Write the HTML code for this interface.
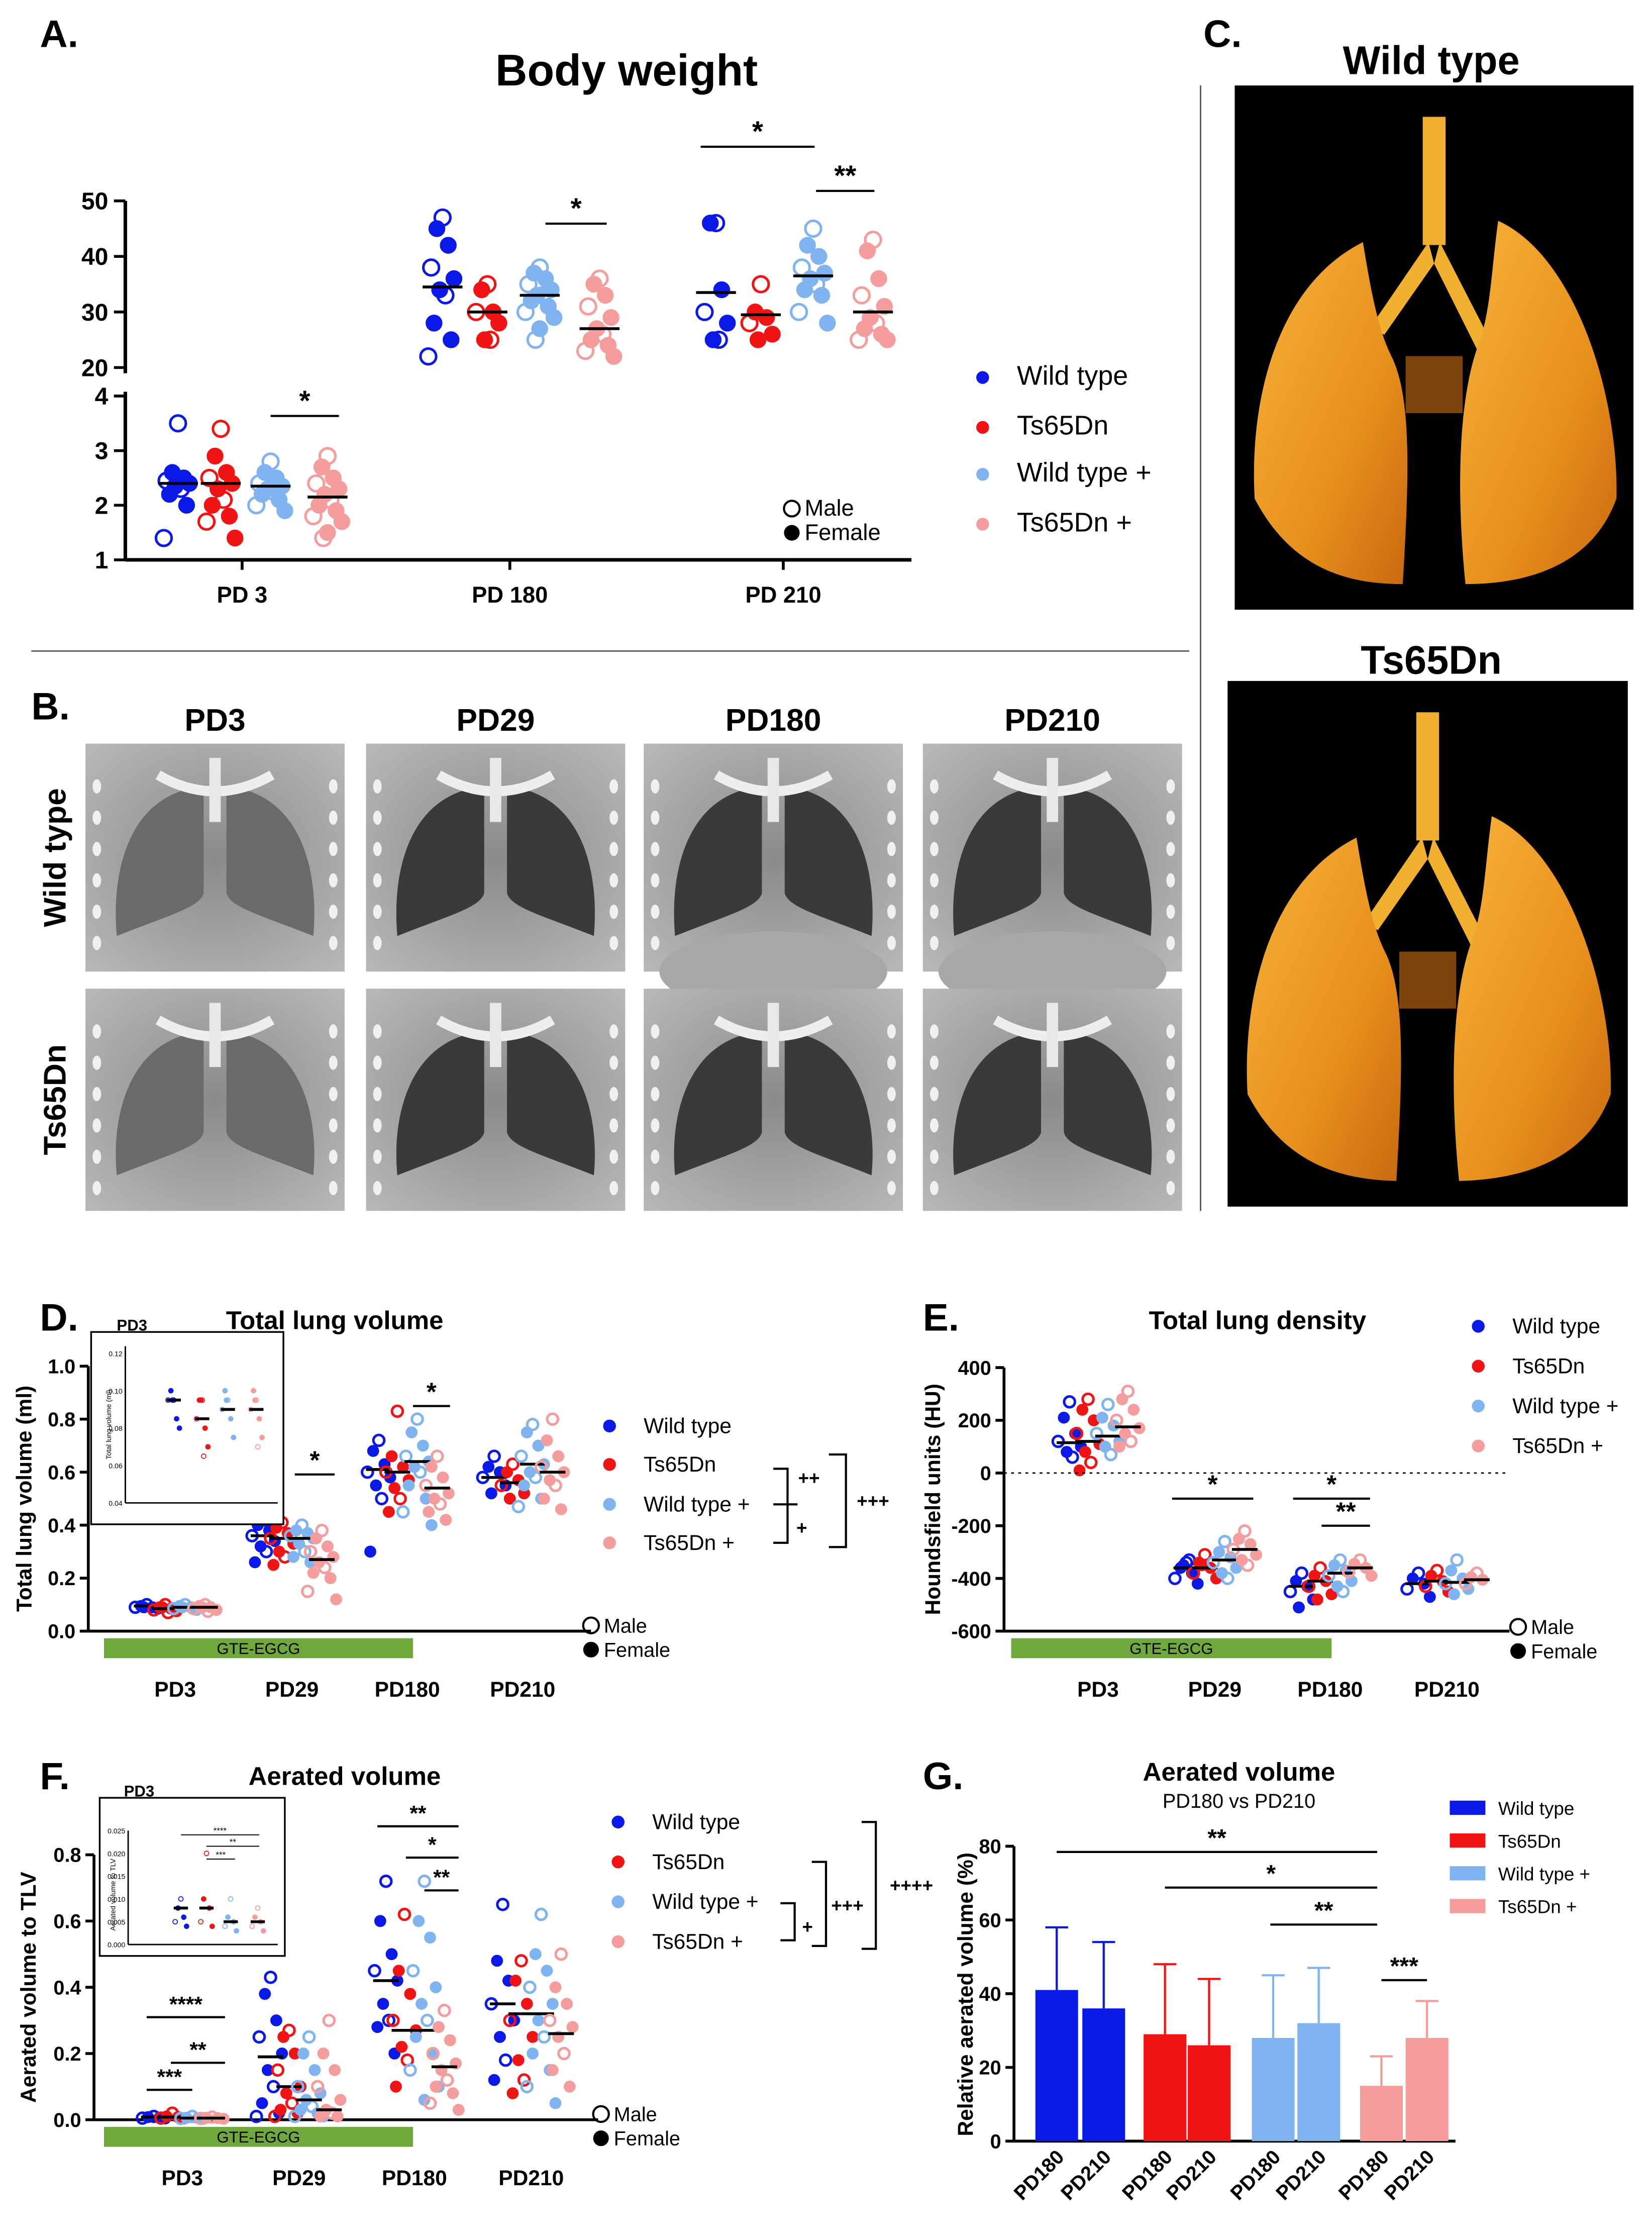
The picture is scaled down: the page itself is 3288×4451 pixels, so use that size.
<!DOCTYPE html>
<html><head><meta charset="utf-8">
<style>
html,body{margin:0;padding:0;background:#fff;}
svg{display:block;font-family:"Liberation Sans",sans-serif;}
.t{font-weight:bold;}
</style></head>
<body>
<svg id="fig" xmlns="http://www.w3.org/2000/svg" width="3288" height="4451" viewBox="0 0 1160 1570.3">
<defs>
<radialGradient id="ctg" cx="50%" cy="50%" r="70%"><stop offset="0" stop-color="#8a8a8a"/><stop offset="1" stop-color="#b8b8b8"/></radialGradient>
<linearGradient id="lungOr" x1="0" y1="0" x2="1" y2="1"><stop offset="0" stop-color="#f7b23a"/><stop offset="0.6" stop-color="#e8901c"/><stop offset="1" stop-color="#c86a10"/></linearGradient>
</defs>
<rect width="1160" height="1570.3" fill="#fff"/>
<!-- Separators -->
<line x1="22" y1="457" x2="835" y2="457" stroke="#555" stroke-width="1"/>
<line x1="843" y1="60" x2="843" y2="850" stroke="#555" stroke-width="1"/>
<!-- Panel letters -->
<text x="28" y="33" font-size="27" class="t">A.</text>
<text x="22" y="505" font-size="27" class="t">B.</text>
<text x="845" y="33" font-size="27" class="t">C.</text>
<text x="28" y="934" font-size="27" class="t">D.</text>
<text x="648" y="934" font-size="27" class="t">E.</text>
<text x="28" y="1256" font-size="27" class="t">F.</text>
<text x="648" y="1256" font-size="27" class="t">G.</text>

<!-- Panel A static -->
<text x="440" y="60" font-size="31" class="t" text-anchor="middle">Body weight</text>
<g id="A"></g>

<!-- Panel B -->
<g id="B"></g>

<!-- Panel C -->
<text x="1005" y="52" font-size="28" class="t" text-anchor="middle">Wild type</text>
<text x="1005" y="473" font-size="28" class="t" text-anchor="middle">Ts65Dn</text>
<g id="C"></g>

<!-- D -->
<text x="235" y="933" font-size="18" class="t" text-anchor="middle">Total lung volume</text>
<g id="D"></g>
<!-- E -->
<text x="883" y="933" font-size="18" class="t" text-anchor="middle">Total lung density</text>
<g id="E"></g>
<!-- F -->
<text x="242" y="1253" font-size="18" class="t" text-anchor="middle">Aerated volume</text>
<g id="F"></g>
<!-- G -->
<text x="870" y="1250" font-size="18" class="t" text-anchor="middle">Aerated volume</text>
<text x="870" y="1269" font-size="14" text-anchor="middle">PD180 vs PD210</text>
<g id="G"></g>
</svg>
<script>
// ---------- DATA ----------
const seriesNames = ["Wild type","Ts65Dn","Wild type +","Ts65Dn +"];
const colors = ["#0a18e8","#f01414","#7fb4f0","#f59c9c"];
// Panel A: body weight
const aCategories = ["PD 3","PD 180","PD 210"];
const aPD3 = [[3.5,2.6,2.5,2.45,2.4,2.35,2.3,2.2,2.0,1.4],[3.4,2.9,2.6,2.5,2.4,2.3,2.1,2.0,1.8,1.7,1.4],[2.8,2.6,2.5,2.4,2.35,2.3,2.25,2.2,2.1,2.0,1.9],[2.9,2.7,2.5,2.4,2.3,2.2,2.1,2.0,1.9,1.8,1.7,1.5,1.4]];
const aPD180 = [[47,45,42,38,36,34,33,28,25,22],[35,34,30,30,28,25,25],[38,37,36,35,34,33,33,32,31,30,29,27,25],[36,35,33,31,29,27,26,25,24,23,22]];
const aPD210 = [[46,46,34,30,28,25,25],[35,30,29,28,26,25],[45,42,40,38,37,36,35,34,33,30,28],[43,41,36,33,31,29,28,27,26,25,25]];
const aMeans = [[2.4,2.4,2.35,2.15],[34.5,30,33,27],[33.5,29.5,36.5,30]];
const aUpperTicks = [20,30,40,50];
const aLowerTicks = [1,2,3,4];
// Panel D: total lung volume
const timeCats = ["PD3","PD29","PD180","PD210"];
const dVals = [
 [[0.1,0.095,0.09,0.09,0.085,0.09],[0.1,0.09,0.085,0.08,0.075,0.09,0.07],[0.1,0.095,0.09,0.085,0.08,0.09],[0.1,0.095,0.09,0.085,0.08,0.09,0.075]],
 [[0.42,0.4,0.38,0.36,0.34,0.32,0.3,0.26],[0.41,0.39,0.37,0.35,0.33,0.3,0.28,0.25],[0.4,0.38,0.37,0.36,0.35,0.33,0.3,0.28,0.26],[0.38,0.35,0.32,0.3,0.28,0.26,0.24,0.22,0.2,0.15,0.12]],
 [[0.72,0.68,0.63,0.6,0.58,0.55,0.5,0.3],[0.83,0.66,0.62,0.6,0.57,0.54,0.5,0.45],[0.8,0.75,0.7,0.66,0.64,0.62,0.6,0.55,0.5,0.45,0.4],[0.66,0.62,0.58,0.55,0.52,0.5,0.48,0.45,0.42]],
 [[0.66,0.62,0.6,0.58,0.55,0.52],[0.63,0.6,0.57,0.55,0.52,0.5],[0.78,0.75,0.7,0.66,0.63,0.6,0.58,0.55,0.5,0.47],[0.8,0.72,0.66,0.62,0.6,0.57,0.55,0.5,0.46]]];
const dMeans = [[0.095,0.085,0.09,0.09],[0.36,0.35,0.35,0.27],[0.61,0.6,0.64,0.54],[0.58,0.56,0.63,0.6]];
const dTicks = [0,0.2,0.4,0.6,0.8,1.0];
// Panel E: density
const eVals = [
 [[270,210,150,120,100,80,60],[280,240,200,150,110,80,40,10],[260,210,180,150,120,100,70],[310,280,240,200,170,150,120,100]],
 [[-340,-360,-380,-400,-420,-350,-330],[-310,-340,-360,-380,-400,-350],[-260,-300,-320,-340,-360,-380,-400],[-220,-250,-270,-290,-310,-330,-350]],
 [[-380,-410,-430,-450,-480,-510],[-360,-390,-410,-430,-460,-480],[-330,-350,-370,-390,-410,-430,-450],[-330,-345,-360,-375,-390]],
 [[-380,-400,-420,-440,-470],[-370,-390,-410,-430,-450],[-330,-370,-400,-420,-440,-460],[-380,-395,-405,-420]]];
const eMeans = [[115,120,140,175],[-360,-360,-330,-290],[-430,-410,-380,-360],[-420,-410,-415,-405]];
const eTicks = [-600,-400,-200,0,200,400];
// Panel F: aerated volume
const fVals = [
 [[0.01,0.008,0.006,0.005,0.004],[0.02,0.01,0.008,0.005,0.004],[0.01,0.006,0.005,0.004,0.003],[0.008,0.006,0.005,0.004,0.003]],
 [[0.43,0.38,0.3,0.25,0.2,0.15,0.1,0.05,0.02,0.01],[0.27,0.25,0.2,0.15,0.1,0.08,0.05,0.03,0.02,0.01],[0.25,0.2,0.15,0.1,0.08,0.06,0.04,0.03,0.02,0.01,0.01],[0.3,0.2,0.15,0.1,0.06,0.03,0.02,0.01,0.01]],
 [[0.72,0.6,0.5,0.45,0.42,0.35,0.3,0.28,0.2],[0.62,0.45,0.38,0.3,0.27,0.22,0.18,0.1],[0.72,0.6,0.55,0.45,0.4,0.35,0.3,0.25,0.2,0.15,0.1,0.06],[0.33,0.28,0.24,0.2,0.17,0.15,0.12,0.1,0.08,0.05,0.03]],
 [[0.65,0.48,0.42,0.35,0.3,0.25,0.18,0.12],[0.48,0.42,0.35,0.3,0.25,0.18,0.12,0.08],[0.62,0.5,0.45,0.4,0.35,0.3,0.25,0.2,0.15,0.1,0.05],[0.5,0.4,0.35,0.3,0.28,0.25,0.2,0.15,0.1]]];
const fMeans = [[0.008,0.008,0.005,0.005],[0.19,0.1,0.06,0.03],[0.42,0.27,0.27,0.16],[0.35,0.32,0.32,0.26]];
const fTicks = [0,0.2,0.4,0.6,0.8];
// Panel G: bars
const gLabels = ["PD180","PD210","PD180","PD210","PD180","PD210","PD180","PD210"];
const gMeans = [41,36,29,26,28,32,15,28];
const gErrTop = [58,54,48,44,45,47,23,38];
const gTicks = [0,20,40,60,80];

// ---------- HELPERS ----------
const NS="http://www.w3.org/2000/svg";
function el(parent,tag,attrs,text){const e=document.createElementNS(NS,tag);for(const k in attrs)e.setAttribute(k,attrs[k]);if(text!==undefined)e.textContent=text;parent.appendChild(e);return e;}
function jit(i){const p=[0,-4,4,-8,8,-2,2,-6,6,-10,10,0,-3];return p[i%p.length];}
function dots(g,vals,cx,yf,col,r){
  vals.forEach((v,i)=>{const open=(i%3===0);
    const c=el(g,"circle",{cx:cx+jit(i),cy:yf(v),r:r,fill:open?"none":col,stroke:col,"stroke-width":open?1.8:0.8});
    
    });
}
function meanLine(g,cx,y,w){const l=el(g,"line",{x1:cx-w,x2:cx+w,y1:y,y2:y,stroke:"#000","stroke-width":2});
  
  }
function sig(g,x1,x2,y,txt,fs){el(g,"line",{x1:x1,x2:x2,y1:y,y2:y,stroke:"#000","stroke-width":1.5});
  const t=el(g,"text",{x:(x1+x2)/2,y:y-4,"font-size":fs||18,"text-anchor":"middle","font-weight":"bold"},txt);
  
  }
function legend(g,x,ys,fs){ys.forEach((y,i)=>{el(g,"circle",{cx:x,cy:y,r:4.5,fill:colors[i]});
  const t=el(g,"text",{x:x+24,y:y+5,"font-size":fs},seriesNames[i]);
  
  });}
function sexLegend(g,x,y,fs){el(g,"circle",{cx:x,cy:y,r:5.5,fill:"none",stroke:"#000","stroke-width":1.5});
  el(g,"text",{x:x+9,y:y+5,"font-size":fs},"Male");
  el(g,"circle",{cx:x,cy:y+17,r:5.5,fill:"#000"});
  el(g,"text",{x:x+9,y:y+22,"font-size":fs},"Female");}

// ---------- PANEL A ----------
(function(){
 const g=document.getElementById("A");
 const yU=v=>258-(v-20)*(117/30), yL=v=>393-(v-1)*(115/3);
 el(g,"line",{x1:88,x2:88,y1:141,y2:262,stroke:"#000","stroke-width":2.5});
 el(g,"line",{x1:88,x2:88,y1:275,y2:393,stroke:"#000","stroke-width":2.5});
 el(g,"line",{x1:88,x2:640,y1:393,y2:393,stroke:"#000","stroke-width":2.5});
 aUpperTicks.forEach(t=>{el(g,"line",{x1:80,x2:88,y1:yU(t),y2:yU(t),stroke:"#000","stroke-width":2});el(g,"text",{x:76,y:yU(t)+6,"font-size":17,"text-anchor":"end","font-weight":"bold"},t);});
 aLowerTicks.forEach(t=>{el(g,"line",{x1:80,x2:88,y1:yL(t),y2:yL(t),stroke:"#000","stroke-width":2});el(g,"text",{x:76,y:yL(t)+6,"font-size":17,"text-anchor":"end","font-weight":"bold"},t);});
 const cc=[170,358,550], offs=[-45,-15,20,60];
 aCategories.forEach((c,i)=>{el(g,"line",{x1:cc[i],x2:cc[i],y1:393,y2:400,stroke:"#000","stroke-width":2});el(g,"text",{x:cc[i],y:423,"font-size":16,"text-anchor":"middle","font-weight":"bold"},c);});
 const sets=[aPD3,aPD180,aPD210];
 sets.forEach((set,ci)=>{const yf=ci===0?yL:yU;set.forEach((vals,si)=>{const cx=cc[ci]+offs[si]*(ci===0?1:1.05);dots(g,vals,cx,yf,colors[si],5.5);meanLine(g,cx,yf(aMeans[ci][si]),14);});});
 sig(g,190,238,292,"*",20);sig(g,383,426,157,"*",20);sig(g,492,572,103,"*",20);sig(g,573,614,134,"**",20);
 legend(g,690,[265,300,333,368],19);
 sexLegend(g,556,357,16);
})();

// ---------- PANEL B ----------
(function(){
 const g=document.getElementById("B");
 const cols=[["PD3",60],["PD29",257],["PD180",452],["PD210",648]];
 const rows=[522,694];
 cols.forEach(([n,x])=>{el(g,"text",{x:x+91,y:513,"font-size":22,"text-anchor":"middle","font-weight":"bold"},n);});
 const rt=el(g,"text",{x:0,y:0,"font-size":22,"font-weight":"bold","text-anchor":"middle",transform:"translate(46,602) rotate(-90)"},"Wild type");
 el(g,"text",{x:0,y:0,"font-size":22,"font-weight":"bold","text-anchor":"middle",transform:"translate(46,772) rotate(-90)"},"Ts65Dn");
 rows.forEach((y,ri)=>cols.forEach(([n,x],ci)=>{
  const w=182,h=ri===0?160:156;
  const r=el(g,"rect",{x:x,y:y,width:w,height:h,fill:"url(#ctg)"});
  
  
  const dark=ci===0?"#6a6a6a":"#3a3a3a";
  el(g,"path",{d:`M${x+w/2-8} ${y+30} C${x+30} ${y+35} ${x+18} ${y+90} ${x+22} ${y+h-25} C${x+60} ${y+h-40} ${x+80} ${y+h-45} ${x+w/2-8} ${y+h-55} Z`,fill:dark});
  el(g,"path",{d:`M${x+w/2+8} ${y+30} C${x+w-30} ${y+35} ${x+w-18} ${y+90} ${x+w-22} ${y+h-25} C${x+w-60} ${y+h-40} ${x+w-80} ${y+h-45} ${x+w/2+8} ${y+h-55} Z`,fill:dark});
  if(ci>=2&&ri===0) el(g,"ellipse",{cx:x+w/2,cy:y+h,rx:80,ry:28,fill:"#a8a8a8"});
  el(g,"path",{d:`M${x+w/2-40} ${y+22} Q${x+w/2} ${y+45} ${x+w/2+40} ${y+22}`,stroke:"#eee","stroke-width":7,fill:"none"});
  el(g,"rect",{x:x+w/2-4,y:y+10,width:8,height:45,fill:"#e8e8e8"});
  for(let k=0;k<6;k++){el(g,"ellipse",{cx:x+8,cy:y+30+k*22,rx:3,ry:5,fill:"#f0f0f0"});el(g,"ellipse",{cx:x+w-8,cy:y+30+k*22,rx:3,ry:5,fill:"#f0f0f0"});}
 }));
})();

// ---------- PANEL C ----------
(function(){
 const g=document.getElementById("C");
 [[867,60,280,368],[862,478,281,369]].forEach(([x,y,w,h],i)=>{
  const r=el(g,"rect",{x:x,y:y,width:w,height:h,fill:"#000"});
  
  
  const cx=x+w/2;
  el(g,"rect",{x:cx-8,y:y+22,width:16,height:90,fill:"#f2b030"});
  el(g,"path",{d:`M${cx-4} ${y+110} L${cx-45} ${y+170} L${cx-35} ${y+175} L${cx} ${y+125} Z`,fill:"#f2b030"});
  el(g,"path",{d:`M${cx+4} ${y+110} L${cx+40} ${y+180} L${cx+30} ${y+185} L${cx} ${y+125} Z`,fill:"#f2b030"});
  el(g,"path",{d:`M${cx-50} ${y+110} C${cx-110} ${y+140} ${x+10} ${y+220} ${x+14} ${y+290} C${x+40} ${y+340} ${cx-60} ${y+350} ${cx-22} ${y+h-18} C${cx-18} ${y+280} ${cx-15} ${y+220} ${cx-30} ${y+190} C${cx-40} ${y+170} ${cx-45} ${y+140} ${cx-50} ${y+110} Z`,fill:"url(#lungOr)"});
  el(g,"path",{d:`M${cx+45} ${y+95} C${cx+100} ${y+120} ${x+w-10} ${y+220} ${x+w-12} ${y+290} C${x+w-30} ${y+340} ${cx+60} ${y+350} ${cx+22} ${y+h-18} C${cx+15} ${y+280} ${cx+18} ${y+220} ${cx+30} ${y+185} C${cx+40} ${y+160} ${cx+40} ${y+130} ${cx+45} ${y+95} Z`,fill:"url(#lungOr)"});
  el(g,"rect",{x:cx-20,y:y+190,width:40,height:40,fill:"#b06010",opacity:0.7});
 });
})();

// ---------- GENERIC SCATTER PANEL ----------
function scatterPanel(g,o){
 const yf=v=>o.y0-(v-o.vmin)/(o.vmax-o.vmin)*(o.y0-o.y1);
 el(g,"line",{x1:o.ax,x2:o.ax,y1:o.y1,y2:o.y0,stroke:"#000","stroke-width":2});
 el(g,"line",{x1:o.ax,x2:o.xEnd,y1:o.y0,y2:o.y0,stroke:"#000","stroke-width":2});
 o.ticks.forEach(t=>{el(g,"line",{x1:o.ax-6,x2:o.ax,y1:yf(t),y2:yf(t),stroke:"#000","stroke-width":2});
   el(g,"text",{x:o.ax-9,y:yf(t)+5,"font-size":14,"text-anchor":"end","font-weight":"bold"},o.fmt(t));});
 const yl=el(g,"text",{x:0,y:0,"font-size":15,"font-weight":"bold","text-anchor":"middle",transform:`translate(${o.ylx},${(o.y0+o.y1)/2}) rotate(-90)`},o.ylabel);
 
 
 el(g,"rect",{x:o.gx1,y:o.y0+5,width:o.gx2-o.gx1,height:14,fill:"#6fa83c"});
 el(g,"text",{x:(o.gx1+o.gx2)/2,y:o.y0+16,"font-size":11,"text-anchor":"middle"},"GTE-EGCG");
 const offs=[-20,-7,7,21];
 timeCats.forEach((c,ci)=>{const cx=o.cc[ci];
   el(g,"text",{x:cx,y:o.y0+46,"font-size":15,"text-anchor":"middle","font-weight":"bold"},c);
   o.vals[ci].forEach((vals,si)=>{const x=cx+offs[si];dots(g,vals.map(v=>v),x,yf,colors[si],3.8);meanLine(g,x,yf(o.means[ci][si]),9);});});
 return yf;
}

// D
(function(){
 const g=document.getElementById("D");
 const yf=scatterPanel(g,{ax:62,xEnd:415,y0:1145,y1:959,vmin:0,vmax:1,ticks:dTicks,fmt:t=>t.toFixed(1),ylx:22,ylabel:"Total lung volume (ml)",gx1:73,gx2:290,cc:[123,205,286,367],vals:dVals,means:dMeans});
 sig(g,207,235,1035,"*",18);sig(g,290,316,987,"*",18);
 // inset
 el(g,"rect",{x:64,y:935,width:135,height:135,fill:"#fff",stroke:"#000","stroke-width":1.2});
 el(g,"text",{x:82,y:934,"font-size":11,"font-weight":"bold"},"PD3");
 el(g,"line",{x1:88,x2:88,y1:945,y2:1055,stroke:"#000"});el(g,"line",{x1:88,x2:195,y1:1055,y2:1055,stroke:"#000"});
 const iy=v=>1055-(v-0.04)/0.08*105;
 [0.04,0.06,0.08,0.1,0.12].forEach(t=>el(g,"text",{x:86,y:iy(t)+2,"font-size":5,"text-anchor":"end"},t.toFixed(2)));
 el(g,"text",{x:0,y:0,"font-size":5,"text-anchor":"middle",transform:"translate(78,1000) rotate(-90)"},"Total lung volume (ml)");
 const insetX=[122,142,160,180];
 dVals[0].forEach((vals,si)=>{vals.forEach((v,i)=>{el(g,"circle",{cx:insetX[si]+jit(i)/2,cy:iy(v+ (i%2?0.005:-0.005)),r:1.6,fill:i%3?colors[si]:"none",stroke:colors[si],"stroke-width":0.6});});meanLine(g,insetX[si],iy(dMeans[0][si]),5);});
 legend(g,428,[1001,1028,1056,1083],15);
 const b=el(g,"path",{d:"M543 1031 H553 V1083 H543 M543 1056 H553 M553 1031 H553 M553 1056 H560 M582 1021 H594 V1086 H582",fill:"none",stroke:"#000","stroke-width":1.5});
 el(g,"text",{x:568,y:1042,"font-size":13,"text-anchor":"middle","font-weight":"bold"},"++");
 el(g,"text",{x:563,y:1077,"font-size":13,"text-anchor":"middle","font-weight":"bold"},"+");
 el(g,"text",{x:613,y:1058,"font-size":13,"text-anchor":"middle","font-weight":"bold"},"+++");
 sexLegend(g,415,1141,14);
})();
// E
(function(){
 const g=document.getElementById("E");
 const yf=scatterPanel(g,{ax:705,xEnd:1060,y0:1145,y1:960,vmin:-600,vmax:400,ticks:eTicks,fmt:t=>t,ylx:660,ylabel:"Houndsfield units  (HU)",gx1:710,gx2:935,cc:[771,853,934,1016],vals:eVals,means:eMeans});
 el(g,"line",{x1:705,x2:1058,y1:yf(0),y2:yf(0),stroke:"#000","stroke-dasharray":"2,3"});
 sig(g,823,880,1052,"*",18);sig(g,908,962,1052,"*",18);sig(g,928,962,1071,"**",18);
 legend(g,1038,[931,959,987,1015],15);
 sexLegend(g,1066,1142,14);
})();
// F
(function(){
 const g=document.getElementById("F");
 const yf=scatterPanel(g,{ax:66,xEnd:420,y0:1488,y1:1302,vmin:0,vmax:0.8,ticks:fTicks,fmt:t=>t.toFixed(1),ylx:25,ylabel:"Aerated volume to TLV",gx1:73,gx2:290,cc:[128,210,291,373],vals:fVals,means:fMeans});
 sig(g,103,135,1467,"***",15);sig(g,120,158,1448,"**",15);sig(g,103,158,1416,"****",15);
 sig(g,265,322,1282,"**",15);sig(g,285,322,1304,"*",15);sig(g,298,322,1327,"**",15);
 el(g,"rect",{x:70,y:1262,width:130,height:111,fill:"#fff",stroke:"#000","stroke-width":1.2});
 el(g,"text",{x:87,y:1261,"font-size":11,"font-weight":"bold"},"PD3");
 el(g,"line",{x1:90,x2:90,y1:1285,y2:1365,stroke:"#000"});el(g,"line",{x1:90,x2:195,y1:1365,y2:1365,stroke:"#000"});
 const iy=v=>1365-v/0.025*80;
 [0,0.005,0.01,0.015,0.02,0.025].forEach(t=>el(g,"text",{x:88,y:iy(t)+2,"font-size":5,"text-anchor":"end"},t.toFixed(3)));
 el(g,"text",{x:0,y:0,"font-size":5,"text-anchor":"middle",transform:"translate(81,1330) rotate(-90)"},"Aerated volume to TLV");
 const insetX=[127,145,162,181];
 fVals[0].forEach((vals,si)=>{vals.forEach((v,i)=>{el(g,"circle",{cx:insetX[si]+jit(i)/2,cy:iy(v),r:1.6,fill:i%3?colors[si]:"none",stroke:colors[si],"stroke-width":0.6});});meanLine(g,insetX[si],iy(fMeans[0][si]),5);});
 [[145,165,1305,"***"],[145,182,1296,"**"],[127,182,1288,"****"]].forEach(([a,b,y,t])=>{el(g,"line",{x1:a,x2:b,y1:y,y2:y,stroke:"#000","stroke-width":0.7});el(g,"text",{x:(a+b)/2,y:y-1,"font-size":6,"text-anchor":"middle"},t);});
 legend(g,434,[1279,1307,1335,1363],15);
 el(g,"path",{d:"M548 1336 H558 V1362 H548 M570 1307 H580 V1366 H570 M605 1279 H615 V1368 H605",fill:"none",stroke:"#000","stroke-width":1.5});
 el(g,"text",{x:567,y:1357,"font-size":13,"text-anchor":"middle","font-weight":"bold"},"+");
 el(g,"text",{x:595,y:1342,"font-size":13,"text-anchor":"middle","font-weight":"bold"},"+++");
 el(g,"text",{x:640,y:1328,"font-size":13,"text-anchor":"middle","font-weight":"bold"},"++++");
 sexLegend(g,422,1484,14);
})();
// G
(function(){
 const g=document.getElementById("G");
 const y0=1503,y1=1296,ax=712;
 const yf=v=>y0-v/80*(y0-y1);
 el(g,"line",{x1:ax,x2:ax,y1:y1,y2:y0,stroke:"#000","stroke-width":2});
 el(g,"line",{x1:ax,x2:1022,y1:y0,y2:y0,stroke:"#000","stroke-width":2});
 gTicks.forEach(t=>{el(g,"line",{x1:ax-6,x2:ax,y1:yf(t),y2:yf(t),stroke:"#000","stroke-width":2});el(g,"text",{x:ax-9,y:yf(t)+5,"font-size":14,"text-anchor":"end","font-weight":"bold"},t);});
 el(g,"text",{x:0,y:0,"font-size":15,"font-weight":"bold","text-anchor":"middle",transform:`translate(683,1400) rotate(-90)`},"Relative aerated volume (%)");
 const bx=[727,760,803,834,879,911,955,987];
 gMeans.forEach((m,i)=>{const col=colors[Math.floor(i/2)];const cx=bx[i]+15;
  el(g,"line",{x1:cx,x2:cx,y1:yf(gErrTop[i]),y2:yf(m),stroke:col,"stroke-width":1.5});
  el(g,"line",{x1:cx-8,x2:cx+8,y1:yf(gErrTop[i]),y2:yf(gErrTop[i]),stroke:col,"stroke-width":1.5});
  const r=el(g,"rect",{x:bx[i],y:yf(m),width:30,height:y0-yf(m),fill:col});
  
  
  el(g,"text",{x:0,y:0,"font-size":14,"font-weight":"bold","text-anchor":"end",transform:`translate(${cx+6},${y0+12}) rotate(-45)`},gLabels[i]);
 });
 sig(g,742,967,1300,"**",17);sig(g,818,967,1325,"*",17);sig(g,892,967,1351,"**",17);sig(g,970,1002,1390,"***",17);
 const ly=[1269,1292,1315,1338];
 ly.forEach((y,i)=>{el(g,"rect",{x:1018,y:y-5,width:25,height:10,fill:colors[i]});
  const t=el(g,"text",{x:1052,y:y+5,"font-size":13},seriesNames[i]);
  
  });
})();
</script>
</body></html>
